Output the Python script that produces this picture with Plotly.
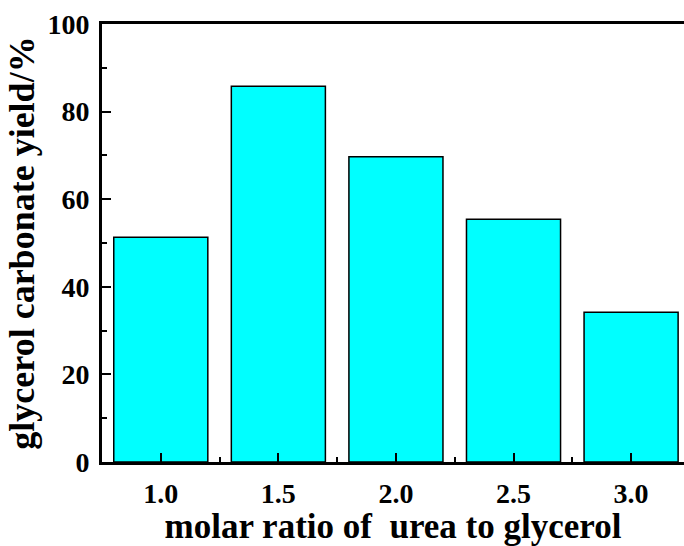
import plotly.graph_objects as go

ratios = [1.0, 1.5, 2.0, 2.5, 3.0]
yields = [51.3, 85.8, 69.7, 55.4, 34.2]
tick_vals = [1.0, 1.5, 2.0, 2.5, 3.0]
tick_text = ["1.0", "1.5", "2.0", "2.5", "3.0"]

font_family = "Liberation Serif, Times New Roman, serif"

fig = go.Figure()
fig.add_trace(go.Bar(
    x=ratios, y=yields, width=0.4,
    marker=dict(color="#00FFFF", line=dict(color="black", width=1.5)),
))

fig.update_layout(
    width=684, height=546,
    margin=dict(l=102, r=0, t=24, b=84),
    paper_bgcolor="white", plot_bgcolor="white",
    showlegend=False,
    font=dict(family=font_family, color="black"),
)
fig.update_xaxes(
    range=[0.75, 3.225],
    tickvals=tick_vals, ticktext=tick_text,
    ticks="inside", ticklen=9, tickwidth=2, tickcolor="black",
    minor=dict(ticks="inside", ticklen=5, tickwidth=2, tickcolor="black", dtick=0.5, tick0=0.75),
    showline=True, linewidth=3, linecolor="black", mirror=True,
    showgrid=False, zeroline=False,
    tickfont=dict(size=28, family=font_family, weight="bold"),
    ticklabelstandoff=4,
    title=dict(text="<b>molar ratio of  urea to glycerol</b>", font=dict(size=35, family=font_family), standoff=6),
)
fig.update_yaxes(
    range=[0, 100],
    tickvals=[0, 20, 40, 60, 80, 100],
    ticks="inside", ticklen=9, tickwidth=2, tickcolor="black",
    minor=dict(ticks="inside", ticklen=5, tickwidth=2, tickcolor="black", dtick=10, tick0=10),
    showline=True, linewidth=3, linecolor="black", mirror=False,
    showgrid=False, zeroline=False,
    tickfont=dict(size=28, family=font_family, weight="bold"),
    ticklabelstandoff=4,
    title=dict(text="<b>glycerol carbonate yield/%</b>", font=dict(size=36, family=font_family), standoff=2),
)

fig.write_html("out.html")
